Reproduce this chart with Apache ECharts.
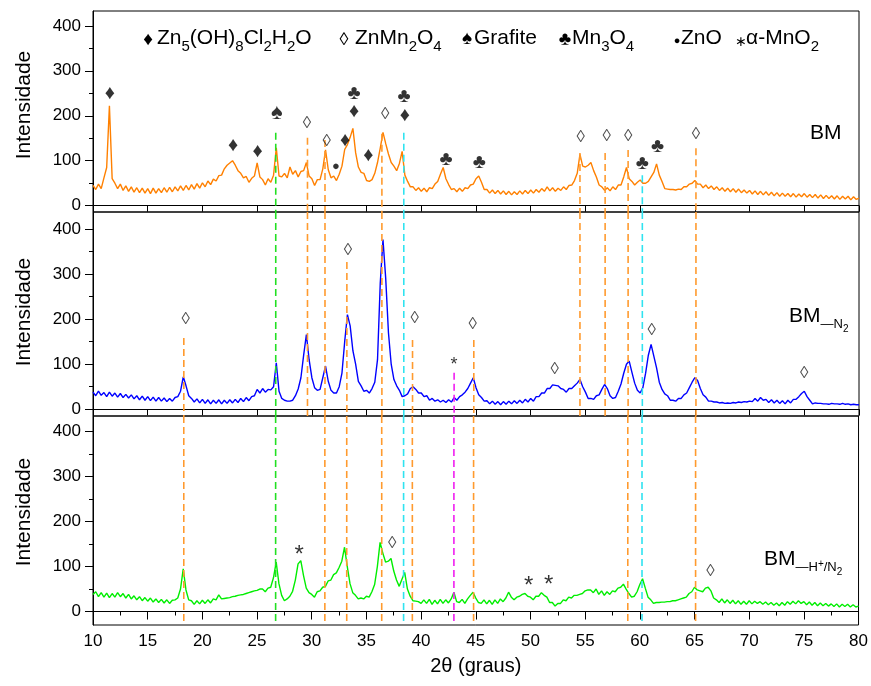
<!DOCTYPE html>
<html>
<head>
<meta charset="utf-8">
<script src="https://cdn.jsdelivr.net/npm/echarts@6.0.0/dist/echarts.min.js"></script>
<style>
  html, body { margin: 0; padding: 0; background: #fff; }
  #chart { width: 871px; height: 686px; }
</style>
</head>
<body>
<div id="chart"></div>
<script>
// 2θ sampling of the patterns: 10 -> 80 graus, 0.25 step
const thetaStart = 10;
const thetaStep = 0.25;

// BM (orange)
const bm = [
  45,36,48,38,62,85,222,60,50,38,48,34,44,32,42,30,40,29,39,28,
  38,27,39,28,38,29,40,30,41,31,42,33,44,34,45,35,47,37,49,39,
  51,42,55,47,59,55,67,68,82,90,95,100,90,78,72,62,65,52,61,66,
  95,64,58,46,60,52,68,129,66,64,72,62,86,70,78,64,76,78,96,66,
  60,45,58,58,82,124,80,62,66,56,70,88,125,136,152,172,118,86,74,72,
  56,54,58,72,96,128,163,138,115,96,88,78,94,121,68,54,42,42,34,40,
  32,39,31,40,38,48,54,70,85,60,47,36,38,31,39,32,40,38,46,48,
  60,66,52,36,36,28,35,27,34,26,33,25,32,24,31,25,33,26,34,27,
  35,28,36,30,38,32,42,33,40,32,39,34,42,36,45,46,56,72,114,88,
  86,90,96,78,64,46,42,34,40,33,42,36,46,46,64,85,60,54,46,52,
  57,50,50,54,64,74,93,68,54,38,37,36,36,35,37,36,42,42,48,50,
  56,48,48,40,46,38,44,36,42,34,40,32,39,31,38,30,37,29,35,28,
  34,26,33,25,32,24,31,23,30,22,29,21,28,21,27,20,27,19,26,20,
  27,19,25,18,25,17,24,16,23,16,22,15,22,14,21,15,21,13,20,14,
  17
];

// BM_N2 (blue)
const bmN2 = [
  38,30,40,31,37,28,38,29,36,27,35,26,33,25,32,23,30,21,29,20,
  28,19,27,18,26,18,25,17,24,18,26,28,40,72,52,30,24,16,23,14,
  22,13,21,12,20,13,21,12,20,13,21,14,22,15,24,17,26,19,28,30,
  44,36,46,38,44,43,50,103,40,24,20,18,18,20,30,45,70,120,166,110,
  70,48,42,44,70,96,62,42,36,36,50,80,150,210,185,130,100,62,52,40,
  42,36,46,60,110,280,377,290,170,100,66,52,42,28,30,34,46,50,44,36,
  36,28,30,20,24,18,21,16,20,15,21,16,26,20,28,32,38,46,58,70,
  48,32,26,18,19,12,18,11,17,10,17,11,18,12,19,13,20,14,22,16,
  24,18,28,28,36,36,46,46,54,53,52,46,44,38,46,46,52,58,66,50,
  38,24,24,22,30,32,44,55,46,30,24,26,40,56,80,100,107,82,58,42,
  36,48,80,120,144,118,92,60,44,34,30,20,20,18,24,24,32,36,48,60,
  70,64,46,32,27,18,18,16,16,14,15,13,14,13,15,14,16,15,17,16,
  18,17,24,18,26,20,22,15,21,14,20,13,19,12,20,14,22,22,28,35,
  40,28,20,12,14,13,13,12,12,11,13,12,12,11,13,11,12,10,11,10,
  10
];

// BM_H+/N2 (green)
const bmHN2 = [
  38,44,33,42,32,41,31,40,32,42,33,40,30,38,28,35,26,33,24,31,
  23,30,21,28,20,27,19,26,18,25,26,30,50,95,48,26,24,16,24,17,
  25,18,26,19,28,26,37,28,29,30,31,33,34,36,37,38,40,42,44,46,
  47,50,50,44,52,54,75,110,62,36,24,28,34,45,70,106,113,80,52,42,
  38,32,44,46,54,56,68,70,82,86,98,112,143,100,62,42,36,28,30,28,
  34,32,44,60,100,154,130,110,112,118,90,70,56,72,87,50,34,24,23,22,
  18,26,18,27,16,25,17,27,18,26,19,28,43,22,20,27,18,28,36,43,
  30,20,18,26,17,25,16,26,18,28,22,30,43,32,26,32,34,38,40,34,
  32,26,34,34,42,36,32,20,20,12,18,18,26,24,32,30,36,36,38,40,
  46,48,48,42,50,38,46,36,44,38,46,44,52,54,61,50,40,32,34,44,
  60,73,52,32,26,18,20,20,21,21,22,22,24,24,26,28,30,32,40,44,
  54,48,46,44,52,54,46,30,26,20,28,19,26,18,25,17,24,16,23,16,
  24,17,23,18,22,16,21,15,20,14,19,13,20,14,22,16,23,17,24,18,
  22,15,21,14,20,13,19,13,18,12,17,11,17,10,16,11,16,10,15,10,
  12
];

// y tick labels / minor ticks
const yLabels = [0, 100, 200, 300, 400];
const yMinor = [50, 150, 250, 350];

// phase reference lines (2θ); each panel: [2θ, start intensity or null = from top]
const greenRefs = [26.7];
const cyanRefs = [38.4, 60.2];
const magentaRefs = [43.0];
const refsTop = [[26.7,162],[29.6,151],[31.2,146],[36.4,160],[38.4,162],[54.5,117],[56.8,117],[58.9,124],[60.2,68],[65.1,128]];
const refsMid = [[18.3,158],[26.7,null],[29.6,null],[31.2,null],[33.2,327],[36.4,null],[38.4,null],[39.2,154],[43.0,81],[44.8,154],[54.5,null],[56.8,null],[58.9,null],[60.2,null],[65.1,null]];
const refsBot = [[18.3,null],[26.7,null],[31.2,null],[33.2,null],[36.4,null],[38.4,null],[39.2,null],[43.0,null],[44.8,null],[58.9,null],[60.2,null],[65.1,null]];

// peak markers: [2θ, intensity, symbol]
const marksTop = [
  [11.55,250,'♦'],[22.8,133,'♦'],[25.05,120,'♦'],[26.8,206,'♠'],[29.55,184,'◊'],
  [31.35,143,'◊'],[32.2,88,'●'],[33.03,145,'♦'],[33.85,249,'♣'],[33.85,209,'♦'],
  [35.16,111,'♦'],[36.7,204,'◊'],[38.42,244,'♣'],[38.5,200,'♦'],[42.26,103,'♣'],
  [45.3,96,'♣'],[54.57,152,'◊'],[56.94,155,'◊'],[58.92,154,'◊'],[60.2,93,'♣'],
  [61.6,131,'♣'],[65.1,159,'◊']
];
const marksMid = [
  [18.47,200,'◊'],[33.3,354,'◊'],[39.4,202,'◊'],[43.0,106,'*'],[44.7,189,'◊'],
  [52.2,89,'◊'],[61.05,176,'◊'],[75.0,80,'◊']
];
const marksBot = [
  [28.85,137,'*'],[37.35,152,'◊'],[49.84,67,'*'],[51.67,69,'*'],[66.45,90,'◊']
];

const FONT = '"Liberation Sans", Arial, Helvetica, sans-serif';

function toPairs(values) {
  return values.map((v, i) => [thetaStart + i * thetaStep, v]);
}

function refColor(t) {
  if (greenRefs.includes(t)) return '#22e022';
  if (cyanRefs.includes(t)) return '#2fe3f0';
  if (magentaRefs.includes(t)) return '#f01ef0';
  return '#ff9a2e';
}

const panels = [
  { data: bm,    color: '#ff8000', min: -14, max: 433, top: 11,  height: 201, refs: refsTop, marks: marksTop, starSize: 18, last: false },
  { data: bmN2,  color: '#0000ff', min: -15, max: 438, top: 212, height: 204, refs: refsMid, marks: marksMid, starSize: 18, last: false },
  { data: bmHN2, color: '#00ee00', min: -30, max: 435, top: 416, height: 209, refs: refsBot, marks: marksBot, starSize: 24, last: true }
];

const glyphSize = { '♦': 20, '◊': 17, '♠': 22, '♣': 20, '●': 13 };

const grid = [], xAxis = [], yAxis = [], series = [];

panels.forEach((p, i) => {
  grid.push({ left: 93, right: 12, top: p.top, height: p.height, show: true, borderColor: '#000', borderWidth: 1 });

  xAxis.push({
    type: 'value', gridIndex: i, min: 10, max: 80, interval: 5,
    axisLine: { lineStyle: { color: '#000', width: 1 } },
    axisTick: { show: true, length: p.last ? 8 : 6, lineStyle: { color: '#000' } },
    minorTick: { show: p.last, splitNumber: 2, length: 4, lineStyle: { color: '#000' } },
    axisLabel: { show: p.last, color: '#000', fontSize: 17, fontFamily: FONT, margin: 8 },
    splitLine: { show: false },
    name: p.last ? '2θ (graus)' : '',
    nameLocation: 'middle', nameGap: 31,
    nameTextStyle: { color: '#000', fontSize: 20, fontFamily: FONT }
  });

  yAxis.push({
    type: 'value', gridIndex: i, min: p.min, max: p.max, position: 'left',
    axisLine: { show: true, lineStyle: { color: '#000', width: 1 } },
    axisTick: { show: true, length: 8, customValues: yLabels, lineStyle: { color: '#000' } },
    axisLabel: { color: '#000', fontSize: 17, fontFamily: FONT, margin: 12, customValues: yLabels },
    splitLine: { show: false }
  });
});

// minor y ticks
panels.forEach((p, i) => {
  yAxis.push({
    type: 'value', gridIndex: i, min: p.min, max: p.max, position: 'left',
    axisLine: { show: false },
    axisTick: { show: true, length: 4, customValues: yMinor, lineStyle: { color: '#000' } },
    axisLabel: { show: false },
    splitLine: { show: false }
  });
});

panels.forEach((p, i) => {
  series.push({
    type: 'line', xAxisIndex: i, yAxisIndex: i,
    data: toPairs(p.data),
    showSymbol: false, symbol: 'none',
    lineStyle: { color: p.color, width: 1.4 },
    silent: true, z: 2
  });

  p.refs.forEach(([t, start]) => {
    series.push({
      type: 'line', xAxisIndex: i, yAxisIndex: i,
      data: [[t, start == null ? p.max : start], [t, p.min]],
      symbol: 'none',
      lineStyle: { color: refColor(t), width: 1.6, type: [7, 4] },
      silent: true, z: 3
    });
  });

  series.push({
    type: 'scatter', xAxisIndex: i, yAxisIndex: i,
    symbolSize: 1,
    itemStyle: { color: 'rgba(0,0,0,0)' },
    silent: true, z: 4,
    data: p.marks.map(([t, v, g]) => {
      const size = g === '*' ? p.starSize : glyphSize[g];
      return {
        value: [t, v],
        label: {
          show: true, position: 'inside', formatter: g,
          fontSize: size, fontFamily: FONT, color: g === '◊' ? '#222' : '#000',
          offset: g === '*' ? [0, Math.round(size * 0.22)] : [0, 0]
        }
      };
    })
  });
});

// rich styles: tokens are centred on the line, top padding pushes sub/superscripts down
const legendRich = {
  n: { fontSize: 21, fontFamily: FONT, color: '#000' },
  s: { fontSize: 15, padding: [17, 0, 0, 0], fontFamily: FONT, color: '#000' }
};
const sampleRich = {
  n: { fontSize: 21, fontFamily: FONT, color: '#000' },
  s: { fontSize: 13, padding: [16, 0, 0, 0], fontFamily: FONT, color: '#000' },
  up: { fontSize: 10, padding: [9, 0, 0, 0], fontFamily: FONT, color: '#000' },
  ss: { fontSize: 10, padding: [26, 0, 0, 0], fontFamily: FONT, color: '#000' }
};

function richText(x, y, text, rich) {
  return { type: 'text', x: x, y: y, z: 10, silent: true,
           style: { text: text, rich: rich, align: 'left', verticalAlign: 'middle' } };
}
function glyph(x, y, g, size) {
  return { type: 'text', x: x, y: y, z: 10, silent: true,
           style: { text: g, fontSize: size, fontFamily: FONT, fill: '#000', align: 'center', verticalAlign: 'middle' } };
}

const graphic = [
  glyph(148, 40, '♦', 19),
  richText(157, 38.5, '{n|Zn}{s|5}{n|(OH)}{s|8}{n|Cl}{s|2}{n|H}{s|2}{n|O}', legendRich),
  glyph(344, 40, '◊', 18),
  richText(355, 38.5, '{n|ZnMn}{s|2}{n|O}{s|4}', legendRich),
  glyph(467, 39, '♠', 19),
  richText(474, 38.5, '{n|Grafite}', legendRich),
  glyph(565, 40, '♣', 19),
  richText(572, 38.5, '{n|Mn}{s|3}{n|O}{s|4}', legendRich),
  glyph(677, 41, '●', 11),
  richText(681, 38.5, '{n|ZnO}', legendRich),
  glyph(741, 42, '∗', 14),
  richText(746, 38.5, '{n|α-MnO}{s|2}', legendRich),
  richText(810, 133, '{n|BM}', { n: { fontSize: 21, fontFamily: FONT, color: '#000' } }),
  richText(789, 316, '{n|BM}{s|—N}{ss|2}', sampleRich),
  richText(764, 559.5, '{n|BM}{s|—H}{up|+}{s|/N}{ss|2}', sampleRich)
];

// y axis titles
[105, 312, 512].forEach(cy => {
  graphic.push({
    type: 'text', x: 24, y: cy, rotation: Math.PI / 2, silent: true,
    style: { text: 'Intensidade', fontSize: 21, fontFamily: FONT, fill: '#000', align: 'center', verticalAlign: 'middle' }
  });
});

const chart = echarts.init(document.getElementById('chart'));
chart.setOption({
  animation: false,
  backgroundColor: '#fff',
  grid, xAxis, yAxis, series, graphic
});
</script>
</body>
</html>
